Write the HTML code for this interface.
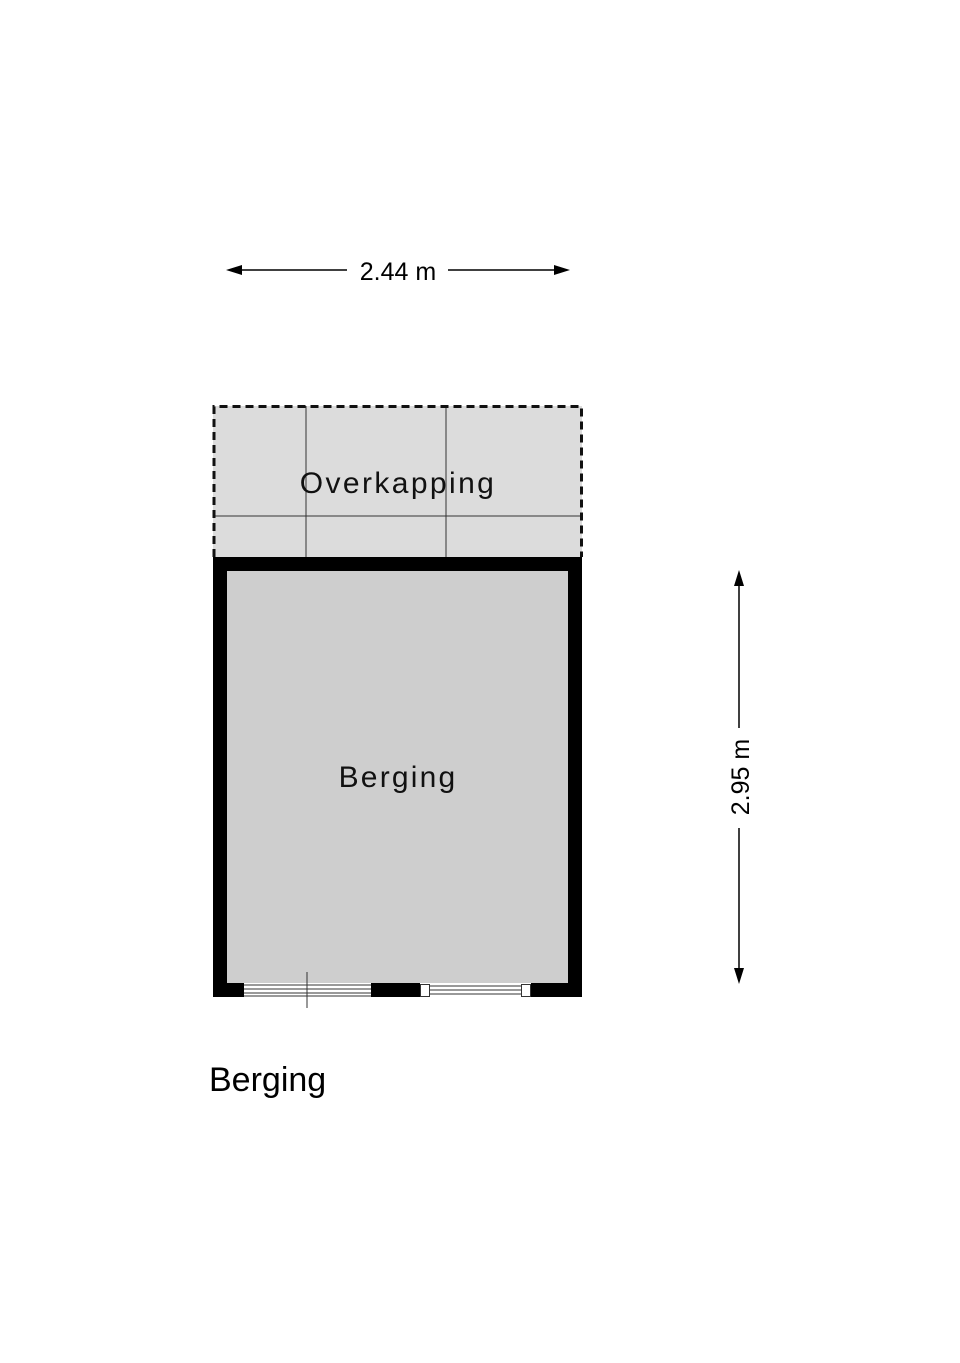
<!DOCTYPE html><html><head><style>body{margin:0;background:#fff}</style></head><body>
<svg width="960" height="1358" xmlns="http://www.w3.org/2000/svg" font-family="Liberation Sans, sans-serif">
<rect x="213" y="406" width="369" height="151" fill="#dcdcdc"/>
<line x1="306" y1="406" x2="306" y2="557" stroke="#333" stroke-width="1"/>
<line x1="446" y1="406" x2="446" y2="557" stroke="#333" stroke-width="1"/>
<line x1="213" y1="516" x2="582" y2="516" stroke="#333" stroke-width="1"/>
<path d="M214 557 V406.5 H581.5 V557" fill="none" stroke="#111" stroke-width="3" stroke-dasharray="8,5"/>
<text x="398" y="493" font-size="30" text-anchor="middle" letter-spacing="2.4" fill="#111">Overkapping</text>
<rect x="213" y="557" width="369" height="440" fill="#000"/>
<rect x="227" y="571" width="341" height="412" fill="#cecece"/>
<rect x="244" y="983" width="127" height="14" fill="#fff"/>
<rect x="420" y="983" width="111" height="14" fill="#fff"/>
<g stroke="#333" stroke-width="1" fill="none">
<line x1="244" y1="985" x2="371" y2="985"/><line x1="244" y1="989" x2="371" y2="989"/><line x1="244" y1="993" x2="371" y2="993"/><line x1="244" y1="996" x2="371" y2="996"/>
<rect x="420.5" y="984.5" width="9" height="12"/><rect x="521.5" y="984.5" width="9" height="12"/>
<line x1="429" y1="986" x2="522" y2="986"/><line x1="429" y1="990" x2="522" y2="990"/><line x1="429" y1="994" x2="522" y2="994"/>
<line x1="307" y1="972" x2="307" y2="1008"/>
</g>
<text x="398" y="787" font-size="30" text-anchor="middle" letter-spacing="2.2" fill="#111">Berging</text>
<g stroke="#000" stroke-width="1.5">
<line x1="232" y1="270" x2="347" y2="270"/><line x1="448" y1="270" x2="564" y2="270"/>
<line x1="739" y1="576" x2="739" y2="728"/><line x1="739" y1="828" x2="739" y2="978"/>
</g>
<polygon points="226,270 242,265 242,275" fill="#000"/>
<polygon points="570,270 554,265 554,275" fill="#000"/>
<polygon points="739,570 734,586 744,586" fill="#000"/>
<polygon points="739,984 734,968 744,968" fill="#000"/>
<text x="398" y="280" font-size="25" text-anchor="middle" fill="#000">2.44 m</text>
<text transform="translate(749,777) rotate(-90)" font-size="25" text-anchor="middle" fill="#000">2.95 m</text>
<text x="209" y="1091" font-size="34" fill="#000">Berging</text>
</svg>
</body></html>
